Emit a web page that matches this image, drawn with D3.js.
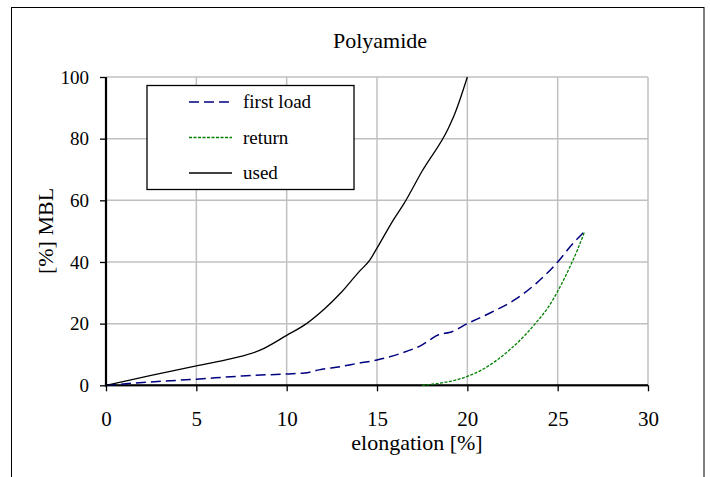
<!DOCTYPE html>
<html>
<head>
<meta charset="utf-8">
<script src="https://cdn.jsdelivr.net/npm/d3@7"></script>
<style>
  body { margin: 0; background: #fff; }
</style>
</head>
<body>
<svg id="chart" width="710" height="477"></svg>
<script>
/*--- Data ---*/
const seriesNames = ["first load", "return", "used"];
const xTicks = [0, 5, 10, 15, 20, 25, 30];
const yTicks = [0, 20, 40, 60, 80, 100];

// [elongation %, % MBL]
const firstLoad = [
    [0, 0], [2.5, 1.1], [5, 2], [7.5, 3], [10, 3.7], [11, 4], [11.8, 5],
    [13, 6.1], [14, 7.2], [15, 8.2], [16.3, 10.3], [17.4, 12.8], [18.5, 16.6],
    [19, 17.1], [20, 20], [21.2, 23.3], [22.5, 27.3], [23.8, 33], [25, 40],
    [25.7, 45], [26.5, 50]
];
const returnCurve = [
    [17.5, 0], [18.5, 0.7], [19.3, 1.6], [20, 2.9], [20.8, 5], [21.6, 8],
    [22.4, 11.8], [23.2, 16.3], [23.8, 20.3], [24.5, 25.5], [25, 30.5],
    [25.7, 38.7], [26.1, 44], [26.5, 50]
];
const used = [
    [0, 0], [2.5, 3.2], [5, 6.3], [7, 8.7], [8.5, 11.3], [10, 16.2],
    [11.1, 20], [12.1, 24.8], [13, 30], [14, 36.8], [14.6, 40.6], [15, 44.5],
    [15.9, 53.6], [16.5, 59], [17.5, 69.5], [18.95, 83.4], [19.3, 88], [20, 100]
];

/*--- Setup ---*/
const FONT = "'Liberation Serif', 'DejaVu Serif', serif";
const svg = d3.select("#chart").attr("font-family", FONT);
const plot = { left: 106, right: 648, top: 77, bottom: 385.3 };

const x = d3.scaleLinear().domain([0, 30]).range([plot.left, plot.right]);
const y = d3.scaleLinear().domain([0, 100]).range([plot.bottom, plot.top]);

// outer chart frame (bottom edge runs off the picture)
svg.append("rect")
    .attr("x", 11.5).attr("y", 7.5)
    .attr("width", 692.5).attr("height", 480)
    .attr("fill", "none").attr("stroke", "#000").attr("stroke-width", 1);

/*--- Grid ---*/
const grid = svg.append("g").attr("stroke", "#c0c0c0").attr("stroke-width", 1.5);
grid.selectAll("line.v")
    .data(xTicks.filter(d => d > 0)).join("line").attr("class", "v")
    .attr("x1", d => x(d)).attr("x2", d => x(d))
    .attr("y1", y(0)).attr("y2", y(100));
grid.selectAll("line.h")
    .data(yTicks.filter(d => d > 0)).join("line").attr("class", "h")
    .attr("x1", x(0)).attr("x2", x(30))
    .attr("y1", d => y(d)).attr("y2", d => y(d));

/*--- Axes ---*/
const xAxis = svg.append("g")
    .attr("transform", `translate(0,${y(0)})`)
    .call(d3.axisBottom(x).tickValues(xTicks).tickSize(6).tickPadding(20).tickFormat(d3.format("d")));
const yAxis = svg.append("g")
    .attr("transform", `translate(${x(0)},0)`)
    .call(d3.axisLeft(y).tickValues(yTicks).tickSize(6).tickPadding(11).tickFormat(d3.format("d")));

[xAxis, yAxis].forEach(a => {
    a.attr("font-family", FONT);
    a.select(".domain").remove();
    a.selectAll(".tick line").attr("stroke", "#000").attr("stroke-width", 1.3);
    a.selectAll(".tick text").attr("fill", "#000");
});
xAxis.selectAll(".tick text").attr("font-size", 21);
yAxis.selectAll(".tick text").attr("font-size", 19);

// axis lines as filled bars on top of the grid
svg.append("rect")
    .attr("x", x(0) - 1.1).attr("y", y(100))
    .attr("width", 2.2).attr("height", y(0) - y(100) + 1.1)
    .attr("fill", "#000");
svg.append("rect")
    .attr("x", x(0) - 1.1).attr("y", y(0) - 1.1)
    .attr("width", x(30) - x(0) + 1.1).attr("height", 2.2)
    .attr("fill", "#000");

/*--- Lines ---*/
const line = d3.line()
    .x(d => x(d[0]))
    .y(d => y(d[1]))
    .curve(d3.curveMonotoneX);

const styles = [
    { data: firstLoad, color: "#000080", dash: "10,5", width: 1.5 },
    { data: returnCurve, color: "#008000", dash: "3,1.5", width: 1.3 },
    { data: used, color: "#000000", dash: null, width: 1.3 }
];

svg.selectAll("path.series")
    .data(styles).join("path").attr("class", "series")
    .attr("d", d => line(d.data))
    .attr("fill", "none")
    .attr("stroke", d => d.color)
    .attr("stroke-width", d => d.width)
    .attr("stroke-dasharray", d => d.dash);

/*--- Titles ---*/
svg.append("text")
    .attr("x", 380).attr("y", 48)
    .attr("text-anchor", "middle").attr("font-size", 22)
    .text("Polyamide");

svg.append("text")
    .attr("x", 417).attr("y", 450)
    .attr("text-anchor", "middle").attr("font-size", 22)
    .text("elongation [%]");

svg.append("text")
    .attr("transform", "translate(53,231) rotate(-90)")
    .attr("text-anchor", "middle").attr("font-size", 22)
    .text("[%] MBL");

/*--- Legend ---*/
const legend = svg.append("g");
legend.append("rect")
    .attr("x", 147).attr("y", 85.5)
    .attr("width", 207).attr("height", 104)
    .attr("fill", "#fff").attr("stroke", "#000").attr("stroke-width", 1.3);

const rowY = d3.scalePoint().domain(seriesNames).range([102, 173]);
const items = legend.selectAll("g.item")
    .data(styles).join("g").attr("class", "item")
    .attr("transform", (d, i) => `translate(0,${rowY(seriesNames[i])})`);
items.append("line")
    .attr("x1", 189).attr("x2", 232)
    .attr("stroke", d => d.color)
    .attr("stroke-width", d => d.width)
    .attr("stroke-dasharray", d => d.dash);
items.append("text")
    .attr("x", 243).attr("dy", "0.33em")
    .attr("font-size", 19)
    .text((d, i) => seriesNames[i]);
</script>
</body>
</html>
